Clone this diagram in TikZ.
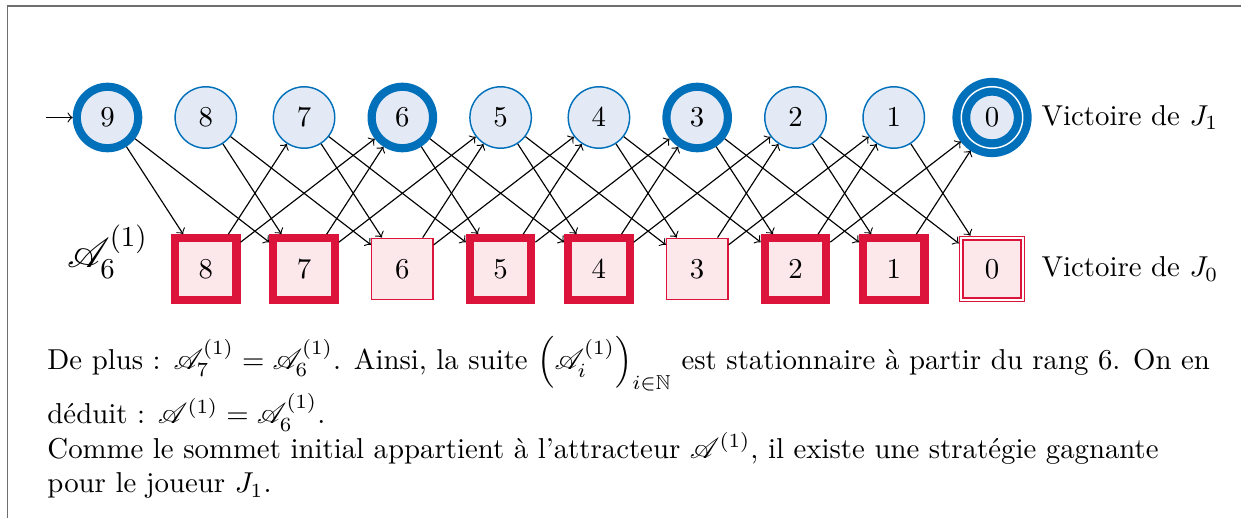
\documentclass[tikz,border=0pt]{standalone}
\usepackage{fontspec}
\usepackage{amssymb}
\usepackage{mathrsfs}
\usetikzlibrary{positioning}
\definecolor{bleuj}{RGB}{0,112,187}
\definecolor{fondbleu}{RGB}{227,233,245}
\definecolor{rougej}{RGB}{220,20,60}
\definecolor{fondrouge}{RGB}{252,232,235}
\definecolor{grisbord}{RGB}{110,110,110}
\begin{document}
\begin{tikzpicture}[cercle/.style={circle,draw=bleuj,fill=fondbleu,line width=0.5pt,minimum size=0.75cm,inner sep=0pt},
  carre/.style={rectangle,draw=rougej,fill=fondrouge,line width=0.5pt,minimum size=0.75cm,inner sep=0pt},
  fort/.style={line width=1mm},
  finalc/.style={line width=1mm,double=white,double distance=0.5pt,outer sep=3pt},
  finals/.style={line width=0.6pt,double=white,double distance=0.6pt,outer sep=0.9pt},
  cadre/.style={draw=grisbord,line width=0.5pt}
  ]
    \useasboundingbox (-1.3126,1.4347) rectangle (13.84,-4.878);
    \draw[cadre] (-1.22,-4.95) |- (13.9,1.36);

    % sommets du joueur J1 (ligne du haut)
    \foreach \i/\st in {9/fort,8/,7/,6/fort,5/,4/,3/fort,2/,1/,0/finalc}
        \node[cercle,\st] (c\i) at ({(9-\i)*1.2},0) {$\i$};
    % sommets du joueur J0 (ligne du bas)
    \foreach \i/\st in {8/fort,7/fort,6/,5/fort,4/fort,3/,2/fort,1/fort,0/finals}
        \node[carre,\st] (s\i) at ({(9-\i)*1.2},-1.85) {$\i$};

    \coordinate (depart) at (-0.75,0);
    \draw[->] (depart) -- (c9);

    % coups : on retire 1 ou 2
    \foreach \i in {1,...,9}{
        \pgfmathtruncatemacro\a{\i-1}
        \draw[->] (c\i) -- (s\a);
    }
    \foreach \i in {2,...,9}{
        \pgfmathtruncatemacro\b{\i-2}
        \draw[->] (c\i) -- (s\b);
    }
    \foreach \i in {1,...,8}{
        \pgfmathtruncatemacro\a{\i-1}
        \draw[->] (s\i) -- (c\a);
    }
    \foreach \i in {2,...,8}{
        \pgfmathtruncatemacro\b{\i-2}
        \draw[->] (s\i) -- (c\b);
    }

    \node[right=0pt of c0] (vic1) {Victoire de $J_1$};
    \node (vic0) at (vic1 |- s0) {Victoire de $J_0$};
    \node (attr) at (0,-1.64) {\Large $\mathscr{A}_6^{(1)}$};

    \node[anchor=north west,align=left,inner sep=0pt] (expl) at (-0.74,-2.66)
        {De plus : $\mathscr{A}_7^{(1)}=\mathscr{A}_6^{(1)}$. Ainsi, la suite $\left(\mathscr{A}_i^{(1)}\right)_{i\in\mathbb{N}}$ est stationnaire à partir du rang 6. On en\\
        déduit : $\mathscr{A}^{(1)}=\mathscr{A}_6^{(1)}$.\\
        Comme le sommet initial appartient à l'attracteur $\mathscr{A}^{(1)}$, il existe une stratégie gagnante\\
        pour le joueur $J_1$.};
\end{tikzpicture}
\end{document}
